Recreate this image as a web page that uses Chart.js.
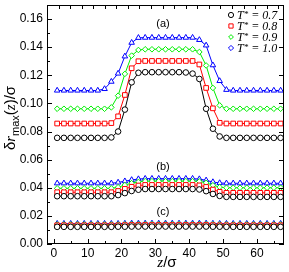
<!DOCTYPE html>
<html>
<head>
<meta charset="utf-8">
<script src="https://cdn.jsdelivr.net/npm/chart.js@4/dist/chart.umd.min.js"></script>
<style>
  html, body { margin: 0; padding: 0; background: #fff; }
</style>
</head>
<body>
<canvas id="myChart" width="289" height="272"></canvas>
<script>
// z positions (in units of sigma)
const zPos = [1, 3, 5, 7, 9, 11, 13, 15, 17, 19, 21, 23, 25, 27, 29, 31, 33,
  35, 37, 39, 41, 43, 45, 47, 49, 51, 53, 55, 57, 59, 61, 63, 65, 67];

const temps = ['0.7', '0.8', '0.9', '1.0'];

// (a)
const a07 = [0.0755, 0.0755, 0.0755, 0.0755, 0.0755, 0.0755, 0.0755, 0.0755, 0.0758,
  0.0800, 0.0956, 0.1150, 0.1218,
  0.1222, 0.1222, 0.1222, 0.1222, 0.1222, 0.1222, 0.1220,
  0.1212, 0.1174, 0.0962, 0.0820, 0.0765,
  0.0755, 0.0755, 0.0755, 0.0755, 0.0755, 0.0755, 0.0755, 0.0755, 0.0755];
const a08 = [0.0857, 0.0857, 0.0857, 0.0857, 0.0857, 0.0857, 0.0857, 0.0857, 0.0860,
  0.0908, 0.1060, 0.1250, 0.1300,
  0.1302, 0.1302, 0.1302, 0.1302, 0.1302, 0.1302, 0.1302, 0.1302,
  0.1277, 0.1110, 0.0965, 0.0862,
  0.0857, 0.0857, 0.0857, 0.0857, 0.0857, 0.0857, 0.0857, 0.0857, 0.0857];
const a09 = [0.0962, 0.0962, 0.0962, 0.0962, 0.0962, 0.0962, 0.0962, 0.0962,
  0.0972, 0.1055, 0.1210, 0.1340, 0.1380,
  0.1385, 0.1385, 0.1385, 0.1385, 0.1385, 0.1385, 0.1385, 0.1385,
  0.1366, 0.1270, 0.1110, 0.0986,
  0.0962, 0.0962, 0.0962, 0.0962, 0.0962, 0.0962, 0.0962, 0.0962, 0.0962];
const a10 = [0.1092, 0.1092, 0.1092, 0.1092, 0.1092, 0.1092, 0.1092,
  0.1103, 0.1155, 0.1213, 0.1335, 0.1432, 0.1467,
  0.1468, 0.1468, 0.1468, 0.1468, 0.1468, 0.1468, 0.1468, 0.1468,
  0.1452, 0.1413, 0.1272, 0.1160, 0.1097,
  0.1092, 0.1092, 0.1092, 0.1092, 0.1092, 0.1092, 0.1092, 0.1092];

// (b)
const b07 = [0.0340, 0.0340, 0.0340, 0.0340, 0.0340, 0.0340, 0.0340, 0.0340, 0.0340,
  0.0348, 0.0362, 0.0377, 0.0386,
  0.0391, 0.0391, 0.0391, 0.0391, 0.0391, 0.0391, 0.0391, 0.0391,
  0.0388, 0.0376, 0.0356, 0.0342,
  0.0335, 0.0335, 0.0335, 0.0335, 0.0335, 0.0335, 0.0335, 0.0335, 0.0335];
const b08 = [0.0368, 0.0368, 0.0368, 0.0368, 0.0368, 0.0368, 0.0368, 0.0368, 0.0368,
  0.0377, 0.0392, 0.0407, 0.0416,
  0.0420, 0.0420, 0.0420, 0.0420, 0.0420, 0.0420, 0.0420, 0.0420,
  0.0417, 0.0406, 0.0387, 0.0371,
  0.0364, 0.0364, 0.0364, 0.0364, 0.0364, 0.0364, 0.0364, 0.0364, 0.0364];
const b09 = [0.0396, 0.0396, 0.0396, 0.0396, 0.0396, 0.0396, 0.0396, 0.0396, 0.0396,
  0.0404, 0.0419, 0.0433, 0.0442,
  0.0447, 0.0447, 0.0447, 0.0447, 0.0447, 0.0447, 0.0447, 0.0447,
  0.0445, 0.0435, 0.0418, 0.0405,
  0.0400, 0.0400, 0.0400, 0.0400, 0.0400, 0.0400, 0.0400, 0.0400, 0.0400];
const b10 = [0.0432, 0.0432, 0.0432, 0.0432, 0.0432, 0.0432, 0.0432, 0.0432, 0.0432,
  0.0438, 0.0447, 0.0456, 0.0462,
  0.0465, 0.0465, 0.0465, 0.0465, 0.0465, 0.0465, 0.0465, 0.0465,
  0.0462, 0.0453, 0.0441, 0.0434,
  0.0432, 0.0432, 0.0432, 0.0432, 0.0432, 0.0432, 0.0432, 0.0432, 0.0432];

// (c)
const c07 = [0.0122, 0.0122, 0.0122, 0.0122, 0.0122, 0.0122, 0.0122, 0.0122, 0.0122,
  0.0123, 0.0123, 0.0124, 0.0124,
  0.0124, 0.0124, 0.0124, 0.0124, 0.0124, 0.0124, 0.0124, 0.0124,
  0.0124, 0.0124, 0.0123, 0.0123,
  0.0122, 0.0122, 0.0122, 0.0122, 0.0122, 0.0122, 0.0122, 0.0122, 0.0122];
const c08 = [0.0133, 0.0133, 0.0133, 0.0133, 0.0133, 0.0133, 0.0133, 0.0133, 0.0133,
  0.0133, 0.0134, 0.0135, 0.0135,
  0.0135, 0.0135, 0.0135, 0.0135, 0.0135, 0.0135, 0.0135, 0.0135,
  0.0135, 0.0135, 0.0134, 0.0133,
  0.0133, 0.0133, 0.0133, 0.0133, 0.0133, 0.0133, 0.0133, 0.0133, 0.0133];
const c09 = [0.0139, 0.0139, 0.0139, 0.0139, 0.0139, 0.0139, 0.0139, 0.0139, 0.0139,
  0.0139, 0.0140, 0.0141, 0.0141,
  0.0141, 0.0141, 0.0141, 0.0141, 0.0141, 0.0141, 0.0141, 0.0141,
  0.0141, 0.0141, 0.0140, 0.0139,
  0.0139, 0.0139, 0.0139, 0.0139, 0.0139, 0.0139, 0.0139, 0.0139, 0.0139];
const c10 = [0.0145, 0.0145, 0.0145, 0.0145, 0.0145, 0.0145, 0.0145, 0.0145, 0.0145,
  0.0145, 0.0146, 0.0147, 0.0147,
  0.0147, 0.0147, 0.0147, 0.0147, 0.0147, 0.0147, 0.0147, 0.0147,
  0.0147, 0.0147, 0.0146, 0.0145,
  0.0145, 0.0145, 0.0145, 0.0145, 0.0145, 0.0145, 0.0145, 0.0145, 0.0145];

// axis ticks
const xTicks = [0, 10, 20, 30, 40, 50, 60];
const xMinor = [5, 15, 25, 35, 45, 55, 65];
const yTicks = [0, 0.02, 0.04, 0.06, 0.08, 0.10, 0.12, 0.14, 0.16];
const yMinor = [0.01, 0.03, 0.05, 0.07, 0.09, 0.11, 0.13, 0.15];
const topTicks = [1, 2, 3, 4, 5, 6, 7, 8, 9, 10, 11, 12, 13, 14, 15, 16, 17, 18, 19, 20];

const panels = [
  { text: '(a)', series: [a07, a08, a09, a10] },
  { text: '(b)', series: [b07, b08, b09, b10] },
  { text: '(c)', series: [c07, c08, c09, c10] }
];

// styles
const colors = ['#000000', '#ff0000', '#00ee00', '#0000ff'];
const markers = ['circle', 'rect', 'rectRot', 'triangle'];
const radii = [2.8, 3.3, 2.8, 3.2];
// the legend of the original shows a diamond for the last entry
const legendMarkers = ['circle', 'rect', 'rectRot', 'rectRot'];
const legendRadii = [2.6, 3.0, 2.4, 2.6];

const sans = '"Liberation Sans", Arial, sans-serif';
const serif = '"Liberation Serif", "Times New Roman", serif';

let datasets = [];
panels.forEach(p => {
  p.series.forEach((vals, k) => {
    datasets.push({
      label: 'T* = ' + temps[k] + ' ' + p.text,
      data: zPos.map((z, i) => ({ x: z, y: vals[i] })),
      showLine: true,
      borderColor: colors[k],
      backgroundColor: '#ffffff',
      borderWidth: 1,
      pointStyle: markers[k],
      pointRadius: radii[k],
      pointBorderWidth: 1,
      pointBackgroundColor: '#ffffff',
      pointBorderColor: colors[k]
    });
  });
});

let noPad = s => { s.paddingTop = 0; s.paddingBottom = 0; s.paddingLeft = 0; s.paddingRight = 0; };

// frame, inward ticks, legend, titles
const decor = {
  id: 'decor',
  afterDraw(chart) {
    const { ctx, chartArea: a, scales } = chart;
    const x = scales.x, y = scales.y, xt = scales.xTop;
    ctx.save();
    ctx.strokeStyle = '#000';
    ctx.lineWidth = 1;
    ctx.strokeRect(a.left + 0.5, a.top + 0.5, a.right - a.left - 1, a.bottom - a.top - 1);

    ctx.beginPath();
    yTicks.forEach(v => {
      let p = Math.round(y.getPixelForValue(v)) + 0.5;
      ctx.moveTo(a.left, p); ctx.lineTo(a.left + 5, p);
      ctx.moveTo(a.right, p); ctx.lineTo(a.right - 5, p);
    });
    yMinor.forEach(v => {
      let p = Math.round(y.getPixelForValue(v)) + 0.5;
      ctx.moveTo(a.left, p); ctx.lineTo(a.left + 3, p);
    });
    xTicks.forEach(v => {
      let p = Math.round(x.getPixelForValue(v)) + 0.5;
      ctx.moveTo(p, a.bottom); ctx.lineTo(p, a.bottom - 5);
    });
    xMinor.forEach(v => {
      let p = Math.round(x.getPixelForValue(v)) + 0.5;
      ctx.moveTo(p, a.bottom); ctx.lineTo(p, a.bottom - 3);
    });
    topTicks.forEach(v => {
      let p = Math.round(xt.getPixelForValue(v)) + 0.5;
      ctx.moveTo(p, a.top); ctx.lineTo(p, a.top + 4);
    });
    ctx.stroke();

    // panel labels
    ctx.fillStyle = '#000';
    ctx.font = '11px ' + sans;
    ctx.textAlign = 'center';
    ctx.textBaseline = 'middle';
    ctx.fillText(panels[0].text, 163, 24);
    ctx.fillText(panels[1].text, 163, 167);
    ctx.fillText(panels[2].text, 163, 212);

    // legend
    temps.forEach((t, k) => {
      let ly = 15 + k * 11;
      ctx.strokeStyle = colors[k];
      ctx.fillStyle = '#fff';
      ctx.lineWidth = 1;
      Chart.helpers.drawPoint(ctx, { pointStyle: legendMarkers[k], radius: legendRadii[k], rotation: 0, borderWidth: 1 }, 231, ly);
      ctx.fillStyle = '#000';
      ctx.textAlign = 'left';
      ctx.textBaseline = 'alphabetic';
      ctx.font = 'italic 12px ' + serif;
      let tx = 237;
      ctx.fillText('T', tx, ly + 4);
      tx += ctx.measureText('T').width;
      ctx.font = 'italic 9px ' + serif;
      ctx.fillText('*', tx, ly + 2);
      tx += ctx.measureText('*').width;
      ctx.font = 'italic 12px ' + serif;
      ctx.fillText(' = ' + t, tx, ly + 4);
    });

    // x title
    ctx.fillStyle = '#000';
    ctx.textBaseline = 'alphabetic';
    ctx.textAlign = 'left';
    ctx.font = 'italic 15px ' + serif;
    let zw = ctx.measureText('z').width;
    ctx.font = '15px ' + sans;
    let sw = ctx.measureText('/σ').width;
    let sx = 167 - (zw + sw) / 2;
    ctx.font = 'italic 15px ' + serif;
    ctx.fillText('z', sx, 267);
    ctx.font = '15px ' + sans;
    ctx.fillText('/σ', sx + zw, 267);

    // y title
    ctx.save();
    ctx.translate(15, 118);
    ctx.rotate(-Math.PI / 2);
    const parts = [
      { s: 'δ', f: '15px ' + sans, dy: 0 },
      { s: 'r', f: 'italic 15px ' + serif, dy: 0 },
      { s: 'max', f: '11px ' + sans, dy: 4 },
      { s: '(', f: '15px ' + sans, dy: 0 },
      { s: 'z', f: 'italic 15px ' + serif, dy: 0 },
      { s: ')/σ', f: '15px ' + sans, dy: 0 }
    ];
    let total = 0;
    parts.forEach(q => { ctx.font = q.f; total += ctx.measureText(q.s).width; });
    let px = -total / 2;
    parts.forEach(q => {
      ctx.font = q.f;
      ctx.fillText(q.s, px, q.dy);
      px += ctx.measureText(q.s).width;
    });
    ctx.restore();

    ctx.restore();
  }
};

new Chart(document.getElementById('myChart'), {
  type: 'scatter',
  data: { datasets: datasets },
  options: {
    responsive: false,
    devicePixelRatio: 1,
    animation: false,
    layout: { padding: { top: 3, right: 4, left: 0, bottom: 0 } },
    plugins: { legend: { display: false }, tooltip: { enabled: false }, title: { display: false } },
    scales: {
      x: {
        type: 'linear', position: 'bottom', min: -2, max: 68,
        grid: { display: false, drawTicks: false },
        border: { display: false },
        ticks: { color: '#000', font: { family: sans, size: 12 }, padding: 2, maxRotation: 0 },
        afterBuildTicks: s => { s.ticks = xTicks.map(v => ({ value: v })); },
        afterFit: s => { s.height = 28; noPad(s); }
      },
      xTop: {
        type: 'linear', position: 'top', min: 0, max: 20.5,
        grid: { display: false, drawTicks: false },
        border: { display: false },
        ticks: { display: false },
        afterFit: s => { s.height = 0; noPad(s); }
      },
      y: {
        type: 'linear', min: 0, max: 0.17,
        grid: { display: false, drawTicks: false },
        border: { display: false },
        ticks: { color: '#000', font: { family: sans, size: 12 }, padding: 4, callback: v => v.toFixed(2) },
        afterBuildTicks: s => { s.ticks = yTicks.map(v => ({ value: v })); },
        afterFit: s => { s.width = 47; noPad(s); }
      }
    }
  },
  plugins: [decor]
});
</script>
</body>
</html>
